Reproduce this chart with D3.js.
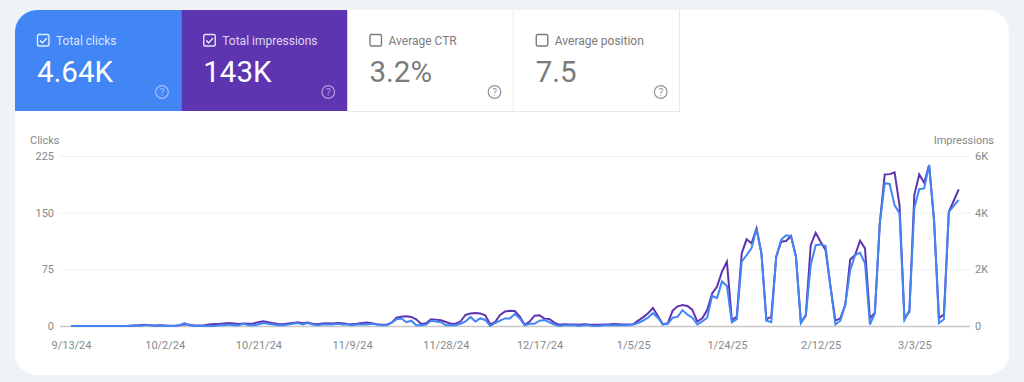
<!DOCTYPE html>
<html lang="en">
  <head>
    <meta charset="utf-8">
    <title>Search performance</title>
    <script src="https://cdn.jsdelivr.net/npm/d3@7"></script>
    <style>
      html, body { margin: 0; padding: 0; background: #eff3f8; }
      svg { display: block; font-family: Roboto, sans-serif; }
      .domain { display: none; }
    </style>
  </head>
  <body>
    <script>
      // Daily values, one per day from the start date
      const startDate = '9/13/24';

      const clicks = [
        0,0,0,0,0,0,0,0,0,0,
        0,0,0,1,0,1,1,0,1,0,
        0,0,1,4,1,0,0,0,0,0,
        1,1,2,1,1,3,1,1,2,4,
        3,2,1,1,2,3,4,2,4,2,
        1,2,2,2,3,2,2,1,2,2,
        2,3,2,1,1,4,9,10,5,7,
        1,1,2,7,6,5,1,1,1,3,
        6,12,6,10,8,0,4,7,10,10,
        16,10,1,3,3,7,8,5,2,0,
        1,1,1,0,1,1,0,0,1,1,
        1,1,1,1,2,4,7,11,17,11,
        2,3,11,12,21,15,11,2,6,11,
        40,37,59,53,5,9,85,94,103,129,
        96,7,5,92,114,120,119,92,4,14,
        81,107,108,106,52,2,7,28,74,94,
        97,83,2,17,136,189,188,160,149,8,
        21,156,181,182,213,140,4,9,151,159,167
      ];

      const impressions = [
        0,0,0,0,0,0,0,0,0,0,
        0,0,10,20,30,40,30,20,30,20,
        10,10,30,60,40,20,20,30,50,70,
        70,90,110,90,70,90,80,90,130,170,
        130,100,70,60,90,110,130,100,120,80,
        60,90,100,90,110,100,70,60,80,105,
        120,95,60,45,45,120,295,330,340,320,
        235,70,95,235,225,200,140,80,80,165,
        390,445,460,445,375,60,140,390,515,540,
        530,330,45,155,365,375,260,245,120,45,
        60,50,55,45,65,50,45,40,50,55,
        70,60,50,50,60,190,305,445,635,355,
        60,95,540,695,740,705,565,155,270,565,
        1150,1390,1915,2270,210,330,2565,3060,2915,3445,
        2565,235,330,2445,2975,3000,3175,2445,120,375,
        2860,3290,2975,2680,1390,190,270,740,2350,2505,
        3010,2740,270,470,3620,5350,5360,5420,4270,270,
        505,4620,5350,5055,5680,3740,270,410,4030,4420,4820
      ];

      const dateTicks = ['9/13/24','10/2/24','10/21/24','11/9/24','11/28/24','12/17/24','1/5/25','1/24/25','2/12/25','3/3/25'];
      const clickTicks = [0, 75, 150, 225];
      const impressionTicks = [0, 2000, 4000, 6000];

      const tileLabels = ['Total clicks', 'Total impressions', 'Average CTR', 'Average position'];
      const tileValues = ['4.64K', '143K', '3.2%', '7.5'];
      const tileColors = ['#4285f4', '#5e35b1', '#fff', '#fff'];

      var w = 1024;
      var h = 382;
      var blue = '#4285f4';
      var purple = '#5e35b1';
      var grey = '#85898d';
      var tileGrey = '#7b7b7b';

      const parseDate = d3.utcParse('%m/%d/%y');
      const formatDate = d => `${d.getUTCMonth() + 1}/${d.getUTCDate()}/${String(d.getUTCFullYear()).slice(2)}`;
      const dates = clicks.map((d, i) => d3.utcDay.offset(parseDate(startDate), i));

      var svg = d3.select('body').append('svg')
        .attr('width', w)
        .attr('height', h);

      //Card with clipped corners, the tiles sit inside it
      svg.append('clipPath').attr('id', 'card')
        .append('rect')
        .attr('x', 15).attr('y', 10)
        .attr('width', 994).attr('height', 365)
        .attr('rx', 22);

      svg.append('rect')
        .attr('x', 15).attr('y', 10)
        .attr('width', 994).attr('height', 365)
        .attr('rx', 22)
        .attr('fill', '#fff');

      //Tiles
      const tileX = d3.scaleBand()
        .domain(d3.range(tileLabels.length))
        .range([15, 680]);

      const tiles = svg.append('g')
        .attr('clip-path', 'url(#card)')
        .selectAll('g')
        .data(tileLabels)
        .enter()
        .append('g')
        .attr('transform', (d, i) => `translate(${tileX(i)},10)`);

      tiles.append('rect')
        .attr('width', tileX.bandwidth())
        .attr('height', 101)
        .attr('fill', (d, i) => tileColors[i]);

      //Thin outlines on the white tiles
      tiles.filter((d, i) => i > 1).append('path')
        .attr('d', `M0,101.5H${tileX.bandwidth()}M${tileX.bandwidth() - 0.5},0V101.5`)
        .attr('fill', 'none')
        .attr('stroke', '#e6e8ea');

      const on = i => i < 2;

      //Checkboxes
      tiles.append('rect')
        .attr('x', 22.5).attr('y', 24.5)
        .attr('width', 11.5).attr('height', 11.5)
        .attr('rx', 1.5)
        .attr('fill', 'none')
        .attr('stroke', (d, i) => on(i) ? '#fff' : tileGrey)
        .attr('stroke-opacity', (d, i) => on(i) ? 0.85 : 1)
        .attr('stroke-width', 1.4);

      tiles.filter((d, i) => on(i)).append('path')
        .attr('d', 'M25,30.5l2.4,2.4l4.4,-4.8')
        .attr('fill', 'none')
        .attr('stroke', '#fff')
        .attr('stroke-width', 1.3);

      tiles.append('text')
        .text(d => d)
        .attr('x', 41)
        .attr('y', 34.5)
        .attr('font-size', '12px')
        .attr('fill', (d, i) => on(i) ? '#fff' : tileGrey)
        .attr('fill-opacity', (d, i) => on(i) ? 0.8 : 1);

      tiles.append('text')
        .text((d, i) => tileValues[i])
        .attr('x', 22)
        .attr('y', 72)
        .attr('font-size', '29.5px')
        .attr('fill', (d, i) => on(i) ? '#fff' : tileGrey);

      //Help icons
      tiles.append('circle')
        .attr('cx', (d, i) => i < 2 ? 147 : 147)
        .attr('cy', 82)
        .attr('r', 6.3)
        .attr('fill', 'none')
        .attr('stroke', (d, i) => on(i) ? '#fff' : tileGrey)
        .attr('stroke-opacity', (d, i) => on(i) ? 0.5 : 0.8)
        .attr('stroke-width', 1.2);

      tiles.append('text')
        .text('?')
        .attr('x', 147)
        .attr('y', 85.5)
        .attr('text-anchor', 'middle')
        .attr('font-size', '10px')
        .attr('fill', (d, i) => on(i) ? '#fff' : tileGrey)
        .attr('fill-opacity', (d, i) => on(i) ? 0.5 : 0.8);

      //Scales
      var xScale = d3.scaleUtc()
        .domain([dates[0], dates[dates.length - 1]])
        .range([71, 958.7]);

      var yLeft = d3.scaleLinear()
        .domain([0, 225])
        .range([326, 156]);

      var yRight = d3.scaleLinear()
        .domain([0, 6000])
        .range([326, 156]);

      //Left axis carries the gridlines
      const leftAxis = svg.append('g')
        .attr('transform', 'translate(60,0)')
        .call(d3.axisLeft(yLeft).tickValues(clickTicks).tickSize(-910).tickPadding(6));

      leftAxis.selectAll('line')
        .attr('stroke', d => d === 0 ? '#c8c8c8' : '#f0f1f2')
        .attr('stroke-width', d => d === 0 ? 1.4 : 1);

      const rightAxis = svg.append('g')
        .attr('transform', 'translate(970,0)')
        .call(d3.axisRight(yRight)
          .tickValues(impressionTicks)
          .tickSize(0)
          .tickPadding(5)
          .tickFormat(d => d === 0 ? '0' : `${d / 1000}K`));

      const bottomAxis = svg.append('g')
        .attr('transform', 'translate(0,326)')
        .call(d3.axisBottom(xScale)
          .tickValues(dateTicks.map(parseDate))
          .tickSize(0)
          .tickPadding(15)
          .tickFormat(formatDate));

      svg.selectAll('.tick text')
        .attr('font-family', 'Roboto, sans-serif')
        .attr('font-size', '11px')
        .attr('fill', grey);

      //Axis titles
      svg.append('text')
        .text('Clicks')
        .attr('x', 30).attr('y', 144)
        .attr('font-size', '11px')
        .attr('fill', grey);

      svg.append('text')
        .text('Impressions')
        .attr('x', 994).attr('y', 144)
        .attr('text-anchor', 'end')
        .attr('font-size', '11px')
        .attr('fill', grey);

      //Impressions first so clicks are in front
      const impressionLine = d3.line()
        .x((d, i) => xScale(dates[i]))
        .y(d => yRight(d));

      const clickLine = d3.line()
        .x((d, i) => xScale(dates[i]))
        .y(d => yLeft(d));

      svg.append('path')
        .attr('d', impressionLine(impressions))
        .attr('fill', 'none')
        .attr('stroke', purple)
        .attr('stroke-width', 2);

      svg.append('path')
        .attr('d', clickLine(clicks))
        .attr('fill', 'none')
        .attr('stroke', blue)
        .attr('stroke-width', 2);
    </script>
  </body>
</html>
